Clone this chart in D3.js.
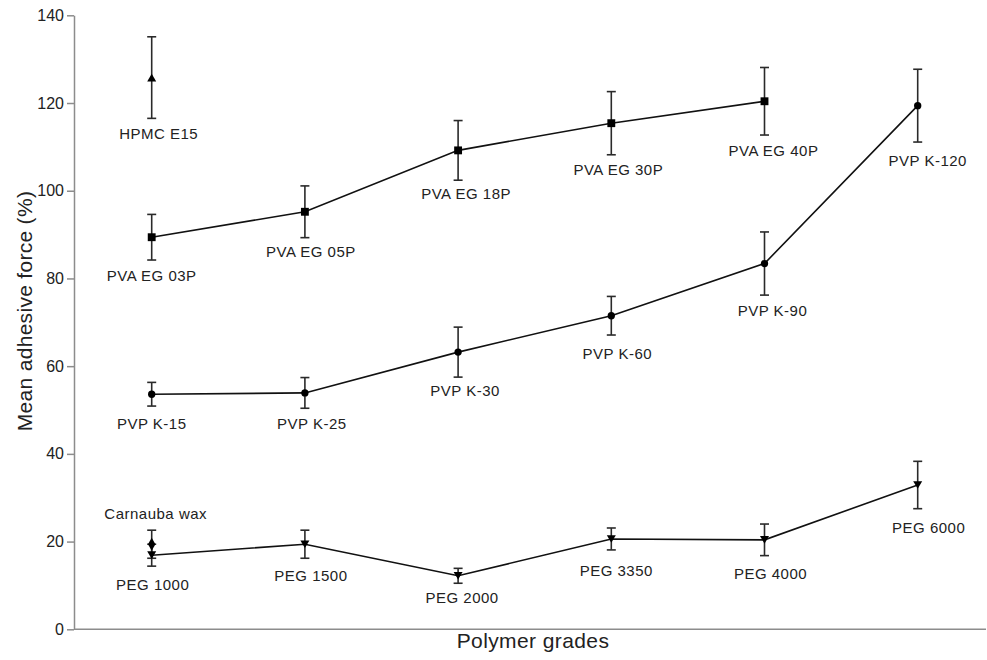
<!DOCTYPE html>
<html>
<head>
<meta charset="utf-8">
<script src="https://cdn.jsdelivr.net/npm/d3@7"></script>
<style>
  html, body { margin: 0; padding: 0; background: #fff; }
  svg { display: block; font-family: "Liberation Sans", Arial, sans-serif; }
</style>
</head>
<body>
<svg id="chart" width="987" height="660"></svg>
<script>
// Mean adhesive force (%) per polymer grade, with standard deviations
const pvaGrades = ["PVA EG 03P", "PVA EG 05P", "PVA EG 18P", "PVA EG 30P", "PVA EG 40P"];
const pvaMean   = [89.4, 95.2, 109.2, 115.4, 120.4];
const pvaSd     = [5.2, 5.9, 6.8, 7.2, 7.7];

const pvpGrades = ["PVP K-15", "PVP K-25", "PVP K-30", "PVP K-60", "PVP K-90", "PVP K-120"];
const pvpMean   = [53.6, 53.9, 63.2, 71.5, 83.4, 119.4];
const pvpSd     = [2.7, 3.5, 5.7, 4.4, 7.2, 8.3];

const pegGrades = ["PEG 1000", "PEG 1500", "PEG 2000", "PEG 3350", "PEG 4000", "PEG 6000"];
const pegMean   = [16.9, 19.4, 12.2, 20.6, 20.4, 32.9];
const pegSd     = [2.5, 3.2, 1.7, 2.5, 3.6, 5.4];

const hpmcGrades = ["HPMC E15"];
const hpmcMean   = [125.8];
const hpmcSd     = [9.3];

const waxGrades = ["Carnauba wax"];
const waxMean   = [19.4];
const waxSd     = [3.2];

const yTicks = [0, 20, 40, 60, 80, 100, 120, 140];

// Label placement tweaks: [dx, gap below the error bar]; negative gap puts the label above the bar
const labelNudge = {
  "HPMC E15": [7, 21], "Carnauba wax": [4, -11],
  "PVA EG 03P": [0, 21], "PVA EG 05P": [6, 19], "PVA EG 18P": [8, 19], "PVA EG 30P": [7, 20], "PVA EG 40P": [9, 21],
  "PVP K-15": [0, 23], "PVP K-25": [7, 21], "PVP K-30": [7, 19], "PVP K-60": [6, 24], "PVP K-90": [8, 21], "PVP K-120": [10, 24],
  "PEG 1000": [1, 24], "PEG 1500": [6, 23], "PEG 2000": [4, 20], "PEG 3350": [5, 26], "PEG 4000": [6, 23], "PEG 6000": [11, 24]
};

const svg = d3.select("#chart");
const axisLeft = 74, axisRight = 986;

const x = d3.scaleLinear().domain([1, 6]).range([151.7, 917.7]);
const y = d3.scaleLinear().domain([0, 140]).range([629.3, 15.3]);

const build = (names, mean, sd, symbol, size, connect) =>
  ({ pts: names.map((n, i) => ({ name: n, pos: i + 1, m: mean[i], s: sd[i] })), symbol, size, connect });

const series = [
  build(pegGrades, pegMean, pegSd, "down", 9, true),
  build(pvpGrades, pvpMean, pvpSd, d3.symbolCircle, 42, true),
  build(pvaGrades, pvaMean, pvaSd, d3.symbolSquare, 62, true),
  build(hpmcGrades, hpmcMean, hpmcSd, "up", 9, false),
  build(waxGrades, waxMean, waxSd, d3.symbolDiamond, 48, false)
];

// Axes
const yAxis = d3.axisLeft(y).tickValues(yTicks).tickSize(7).tickPadding(3).tickSizeOuter(0);
const gy = svg.append("g").attr("transform", `translate(${axisLeft},0)`).call(yAxis);
gy.select(".domain").attr("stroke", "#8c8c8c").attr("stroke-width", 1.5);
gy.selectAll(".tick line").attr("stroke", "#8c8c8c").attr("stroke-width", 1.5);
gy.selectAll(".tick text").attr("font-size", 16).attr("fill", "#222")
  .attr("font-family", "'Liberation Sans', Arial, sans-serif");

svg.append("line")
  .attr("x1", axisLeft).attr("x2", axisRight)
  .attr("y1", y(0)).attr("y2", y(0))
  .attr("stroke", "#8c8c8c").attr("stroke-width", 1.5);

svg.append("text")
  .attr("x", 533).attr("y", 648)
  .attr("text-anchor", "middle").attr("font-size", 21).attr("letter-spacing", 0.4)
  .attr("fill", "#222").text("Polymer grades");

svg.append("text")
  .attr("transform", "translate(32,311) rotate(-90)")
  .attr("text-anchor", "middle").attr("font-size", 21).attr("letter-spacing", 0.3)
  .attr("fill", "#222").text("Mean adhesive force (%)");

// Connecting lines
const line = d3.line().x(d => x(d.pos)).y(d => y(d.m));
series.filter(s => s.connect).forEach(s => {
  svg.append("path").datum(s.pts)
    .attr("d", line).attr("fill", "none")
    .attr("stroke", "#111").attr("stroke-width", 1.6);
});

// Error bars
const cap = 4.5;
series.forEach(s => {
  const g = svg.append("g").attr("stroke", "#2a2a2a").attr("stroke-width", 1.6).attr("fill", "none");
  s.pts.forEach(d => {
    const cx = x(d.pos), top = y(d.m + d.s), bot = y(d.m - d.s);
    g.append("line").attr("x1", cx).attr("x2", cx).attr("y1", top).attr("y2", bot);
    g.append("line").attr("x1", cx - cap).attr("x2", cx + cap).attr("y1", top).attr("y2", top);
    g.append("line").attr("x1", cx - cap).attr("x2", cx + cap).attr("y1", bot).attr("y2", bot);
  });
});

// Markers
const triPath = (dir, w) => {
  const h = w * 0.85;
  return dir === "down"
    ? `M${-w / 2},${-h / 2}L${w / 2},${-h / 2}L0,${h / 2}Z`
    : `M${-w / 2},${h / 2}L${w / 2},${h / 2}L0,${-h / 2}Z`;
};
series.forEach(s => {
  const shape = (s.symbol === "down" || s.symbol === "up")
    ? triPath(s.symbol, s.size)
    : d3.symbol().type(s.symbol).size(s.size)();
  svg.append("g").selectAll("path").data(s.pts).join("path")
    .attr("d", shape)
    .attr("transform", d => `translate(${x(d.pos)},${y(d.m)})`)
    .attr("fill", "#000");
});

// Grade labels
series.forEach(s => {
  svg.append("g").selectAll("text").data(s.pts).join("text")
    .attr("x", d => x(d.pos) + labelNudge[d.name][0])
    .attr("y", d => {
      const gap = labelNudge[d.name][1];
      return gap >= 0 ? y(d.m - d.s) + gap : y(d.m + d.s) + gap;
    })
    .attr("text-anchor", "middle")
    .attr("font-size", 15).attr("letter-spacing", 0.5)
    .attr("fill", "#222")
    .text(d => d.name);
});
</script>
</body>
</html>
